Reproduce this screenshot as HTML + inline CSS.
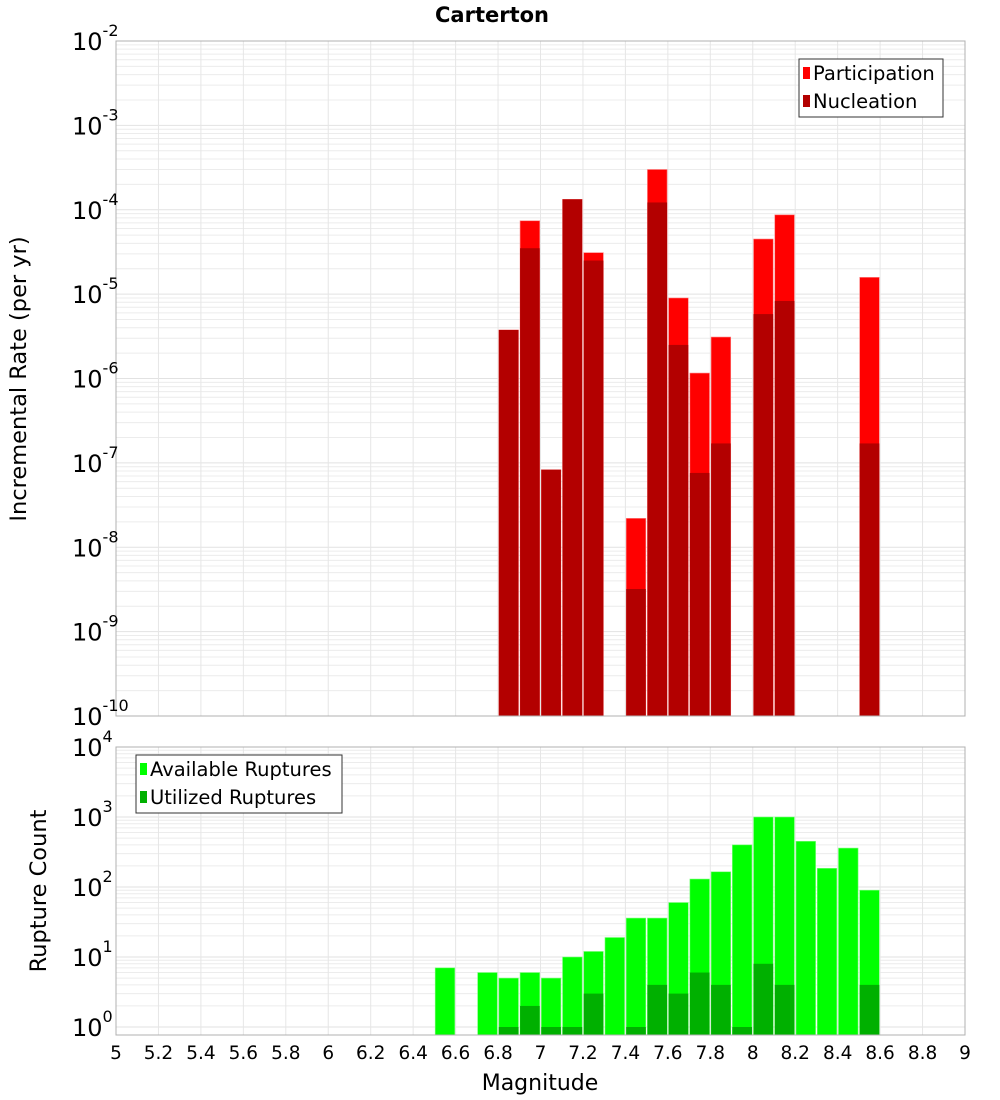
<!DOCTYPE html>
<html><head><meta charset="utf-8"><style>
body{margin:0;background:#fff;}
svg{display:block;font-family:"DejaVu Sans","Liberation Sans",sans-serif;}
</style></head><body>
<svg id="chart" width="1000" height="1100" xmlns="http://www.w3.org/2000/svg">
<text x="492" y="22" text-anchor="middle" font-size="21" font-weight="bold">Carterton</text>
<text transform="translate(26,379) rotate(-90)" text-anchor="middle" font-size="22.5">Incremental Rate (per yr)</text>
<text transform="translate(46,891) rotate(-90)" text-anchor="middle" font-size="22.5">Rupture Count</text>
<text x="540" y="1090" text-anchor="middle" font-size="22">Magnitude</text>
<g id="g"></g>
</svg>
<script>
const mags=[6.55,6.75,6.85,6.95,7.05,7.15,7.25,7.35,7.45,7.55,7.65,7.75,7.85,7.95,8.05,8.15,8.25,8.35,8.45,8.55];
const participation=[0,0,3.76e-6,7.4e-5,8.3e-8,1.33e-4,3.1e-5,0,2.2e-8,3.0e-4,9e-6,1.16e-6,3.1e-6,0,4.5e-5,8.7e-5,0,0,0,1.58e-5];
const nucleation=[0,0,3.76e-6,3.5e-5,8.3e-8,1.33e-4,2.5e-5,0,3.2e-9,1.22e-4,2.5e-6,7.6e-8,1.7e-7,0,5.8e-6,8.3e-6,0,0,0,1.7e-7];
const available=[7,6,5,6,5,10,12,19,36,36,60,130,165,400,1000,1000,450,185,360,90];
const utilized=[0,0,1,2,1,1,3,0,1,4,3,6,4,1,8,4,0,0,0,4];
const xTicks=[5,5.2,5.4,5.6,5.8,6,6.2,6.4,6.6,6.8,7,7.2,7.4,7.6,7.8,8,8.2,8.4,8.6,8.8,9];
const topExps=[-2,-3,-4,-5,-6,-7,-8,-9,-10];
const botExps=[4,3,2,1,0];

const NS="http://www.w3.org/2000/svg";
const g=document.getElementById('g');
function el(t,a,p){const e=document.createElementNS(NS,t);for(const k in a)e.setAttribute(k,a[k]);(p||g).appendChild(e);return e;}
const X0=116,X1=965;
const xs=v=>X0+(v-5)/4*(X1-X0);
const T0=41,T1=716;
const yTop=v=>T0+(-2-Math.log10(v))*(T1-T0)/8;
const B0=747,B1=1035;
const yBot=v=>1027-Math.log10(v)*70;

for(let e=-10;e<-2;e++)for(let m=1;m<10;m++){const y=yTop(m*Math.pow(10,e));if(y<T0||y>T1)continue;
 const l=el('line',{x1:X0,x2:X1,y1:y,y2:y,stroke:m==1?'#e2e2e2':'#ececec','stroke-width':1});
 }
for(let e=0;e<4;e++)for(let m=1;m<10;m++){const y=yBot(m*Math.pow(10,e));if(y<B0||y>B1)continue;
 const l=el('line',{x1:X0,x2:X1,y1:y,y2:y,stroke:m==1?'#e2e2e2':'#ececec','stroke-width':1});
 }
xTicks.forEach(t=>{const x=xs(t);
 const a=el('line',{x1:x,x2:x,y1:T0,y2:T1,stroke:'#e6e6e6'});
 const b=el('line',{x1:x,x2:x,y1:B0,y2:B1,stroke:'#e6e6e6'});
 const tx=el('text',{x:x,y:1059,'text-anchor':'middle','font-size':18.5});tx.textContent=String(t);
 
});
const bw=(X1-X0)/40-1.6;
mags.forEach((m,i)=>{const x=xs(m)-bw/2;
 if(participation[i]>0){const y=yTop(participation[i]);const r=el('rect',{x:x,y:y,width:bw,height:T1-y,fill:'#ff0000',stroke:'#ff8080','stroke-width':0.6});
  }
 if(nucleation[i]>0){const y=yTop(nucleation[i]);const r=el('rect',{x:x,y:y,width:bw,height:T1-y,fill:'#b30000'});
  }
 if(available[i]>0){const y=yBot(available[i]);const r=el('rect',{x:x,y:y,width:bw,height:B1-y,fill:'#00ff00',stroke:'#80ff80','stroke-width':0.6});
  }
 if(utilized[i]>0){const y=yBot(utilized[i]);const r=el('rect',{x:x,y:y,width:bw,height:B1-y,fill:'#00b000'});
  }
});
const f1=el('rect',{x:X0,y:T0,width:X1-X0,height:T1-T0,fill:'none',stroke:'#b0b0b0'});
const f2=el('rect',{x:X0,y:B0,width:X1-X0,height:B1-B0,fill:'none',stroke:'#b0b0b0'});
function pow(x,y,e,name){const t=el('text',{x:x,y:y,'font-size':24});
 
 const a=document.createElementNS(NS,'tspan');a.textContent='10';t.appendChild(a);
 const b=document.createElementNS(NS,'tspan');b.setAttribute('dy','-14');b.setAttribute('font-size','16');b.textContent=String(e);t.appendChild(b);}
topExps.forEach(e=>{const y=yTop(Math.pow(10,e));pow(72,y+9,e,'top-y-tick-label');});
botExps.forEach(e=>{const y=yBot(Math.pow(10,e));pow(72,y+9,e,'bottom-y-tick-label');});
function legend(x,y,w,items,name){const lg=el('g',{});
 el('rect',{x:x,y:y,width:w,height:58,fill:'#fff',stroke:'#333'},lg);
 items.forEach((it,k)=>{el('rect',{x:x+4,y:y+8+k*28,width:7,height:12,fill:it[1]},lg);
  const t=el('text',{x:x+14,y:y+21+k*28,'font-size':19.5},lg);t.textContent=it[0];});}
legend(799,59,144,[['Participation','#ff0000'],['Nucleation','#b30000']],'top-legend');
legend(136,755,206,[['Available Ruptures','#00ff00'],['Utilized Ruptures','#00b000']],'bottom-legend');
</script>
</body></html>
